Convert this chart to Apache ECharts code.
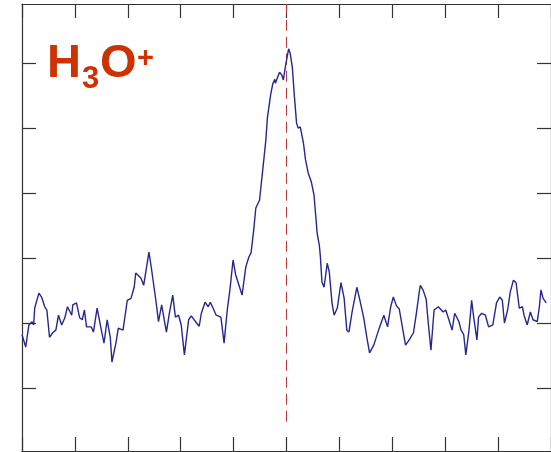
<!DOCTYPE html>
<html>
<head>
<meta charset="utf-8">
<script src="https://cdn.jsdelivr.net/npm/echarts@6/dist/echarts.min.js"></script>
<style>
  html, body { margin: 0; padding: 0; background: #fff; }
  #chart { width: 551px; height: 452px; }
</style>
</head>
<body>
<div id="chart"></div>
<script>
// velocity offsets (km/s) of the traced spectrum points
const velocity = [
  -50.0, -49.3, -48.7, -48.1, -47.8, -47.6, -46.8, -46.3, -45.7, -45.3,
  -44.8, -44.2, -43.6, -43.1, -42.5, -41.9, -41.4, -40.6, -40.4, -39.7,
  -39.1, -38.6, -38.2, -37.8, -36.9, -36.5, -35.8, -35.0, -34.5, -33.9,
  -33.3, -33.0, -32.2, -31.8, -30.9, -30.1, -29.4, -28.8, -28.5, -27.5,
  -27.0, -26.0, -25.5, -24.7, -24.2, -23.6, -22.7, -22.1, -21.5, -21.0,
  -20.4, -19.9, -19.3, -18.5, -18.0, -17.0, -16.5, -16.1, -15.4, -14.8,
  -14.4, -13.9, -13.3, -12.4, -11.8, -11.2, -10.7, -10.1, -9.6, -8.4,
  -7.7, -7.1, -6.7, -6.2, -5.8, -5.1, -4.5, -3.9, -3.6, -3.0,
  -2.6, -2.2, -2.1, -1.7, -1.3, -0.9, -0.6, -0.2, 0.4, 0.7,
  1.1, 1.5, 1.9, 2.2, 2.6, 3.2, 3.6, 4.1, 4.7, 5.2,
  5.8, 6.2, 6.4, 6.7, 7.1, 7.7, 8.1, 8.6, 9.0, 9.6,
  10.3, 10.9, 11.4, 11.8, 12.4, 13.3, 13.9, 14.6, 15.2, 15.7,
  16.5, 17.4, 18.4, 19.1, 19.7, 20.2, 20.8, 21.3, 21.9, 22.5,
  23.2, 24.0, 24.5, 25.1, 25.3, 25.8, 26.4, 26.8, 27.3, 27.9,
  28.7, 29.0, 29.6, 30.1, 30.7, 31.3, 31.8, 32.6, 33.0, 33.5,
  33.9, 34.5, 35.0, 35.4, 36.0, 36.3, 36.9, 37.6, 38.2, 39.0,
  39.7, 40.3, 40.8, 41.2, 41.8, 42.3, 42.9, 43.4, 44.0, 44.6,
  44.9, 45.5, 46.1, 46.6, 47.4, 47.8, 48.1, 48.5, 49.1
]
// intensity (arbitrary units) at each velocity
const intensity = [
  8.2, 6.3, 9.7, 10.2, 9.7, 12.3, 14.6, 14.0, 12.5, 12.0,
  7.8, 8.5, 8.9, 11.2, 9.7, 10.8, 12.5, 11.2, 12.8, 13.1,
  10.8, 10.5, 12.0, 9.4, 9.4, 8.6, 12.3, 8.9, 6.9, 10.5,
  7.7, 4.0, 7.1, 9.2, 8.9, 13.5, 13.8, 15.5, 17.7, 16.9,
  15.8, 20.9, 18.2, 13.5, 10.2, 12.8, 8.6, 11.7, 14.3, 10.9,
  11.2, 9.7, 5.1, 10.5, 11.1, 10.0, 9.5, 11.5, 13.2, 12.5,
  13.2, 12.3, 11.2, 10.9, 6.9, 12.0, 15.1, 19.7, 17.4, 14.3,
  18.6, 20.2, 20.8, 24.3, 27.7, 28.9, 33.5, 38.2, 41.7, 45.1,
  46.8, 47.5, 46.9, 47.8, 48.6, 48.2, 47.4, 49.5, 52.2, 51.5,
  49.4, 44.8, 40.8, 40.0, 40.2, 37.7, 35.1, 33.1, 31.7, 29.7,
  23.8, 22.0, 20.3, 16.3, 15.5, 19.2, 17.8, 13.1, 11.2, 12.3,
  16.2, 13.8, 8.9, 8.6, 11.7, 15.5, 13.4, 10.8, 7.7, 5.4,
  6.6, 8.9, 11.2, 9.4, 12.5, 14.0, 12.6, 12.2, 9.4, 6.6,
  7.4, 8.5, 11.2, 14.8, 15.8, 15.1, 13.7, 10.0, 5.8, 12.0,
  12.5, 12.3, 11.7, 12.0, 10.5, 8.9, 11.5, 10.2, 8.9, 8.2,
  5.1, 8.9, 13.5, 10.8, 7.4, 10.9, 11.5, 11.2, 9.4, 9.7,
  13.1, 14.0, 13.5, 10.0, 12.0, 14.8, 16.6, 16.2, 12.3, 12.5,
  11.2, 9.7, 11.7, 10.5, 10.2, 12.5, 15.1, 13.8, 13.1
]
const yTicks = [0, 10, 20, 30, 40, 50]
const restLine = [[0, -5.2], [0, 59.1]]

const chart = echarts.init(document.getElementById('chart'))

const axisLine = { show: true, onZero: false, lineStyle: { color: '#333', width: 1.2 } }
const tick = { show: true, inside: true, length: 14, lineStyle: { color: '#333', width: 1.2 } }

function xAx(pos) {
  return {
    type: 'value', position: pos, min: -50, max: 50, interval: 10,
    axisLine: axisLine, axisTick: tick,
    axisLabel: { show: false }, splitLine: { show: false }
  }
}
function yAx(pos) {
  return {
    type: 'value', position: pos, min: -9.7, max: 59.1,
    axisLine: axisLine,
    axisTick: Object.assign({}, tick, { customValues: yTicks }),
    axisLabel: { show: false }, splitLine: { show: false }
  }
}

const red = '#cc3300'
const option = {
  animation: false,
  grid: { left: 22, top: 4, width: 534, height: 447 },
  xAxis: [xAx('bottom'), xAx('top')],
  yAxis: [yAx('left'), yAx('right')],
  series: [
    {
      type: 'line',
      data: velocity.map((v, i) => [v, intensity[i]]),
      showSymbol: false,
      lineStyle: { color: '#262690', width: 1.4 },
      z: 3
    },
    {
      type: 'line',
      data: restLine,
      showSymbol: false,
      lineStyle: { color: '#b83a3a', width: 1, type: [11, 6] },
      z: 2
    }
  ],
  graphic: [
    { type: 'text', x: 47, y: 64, style: { text: 'H', fill: red, font: 'bold 47px "Liberation Sans", Arial', verticalAlign: 'middle' } },
    { type: 'text', x: 82, y: 79, style: { text: '3', fill: red, font: 'bold 31px "Liberation Sans", Arial', verticalAlign: 'middle' } },
    { type: 'text', x: 100, y: 64, style: { text: 'O', fill: red, font: 'bold 47px "Liberation Sans", Arial', verticalAlign: 'middle' } },
    { type: 'text', x: 137, y: 59, style: { text: '+', fill: red, font: 'bold 29px "Liberation Sans", Arial', verticalAlign: 'middle' } }
  ]
}
chart.setOption(option)
</script>
</body>
</html>
